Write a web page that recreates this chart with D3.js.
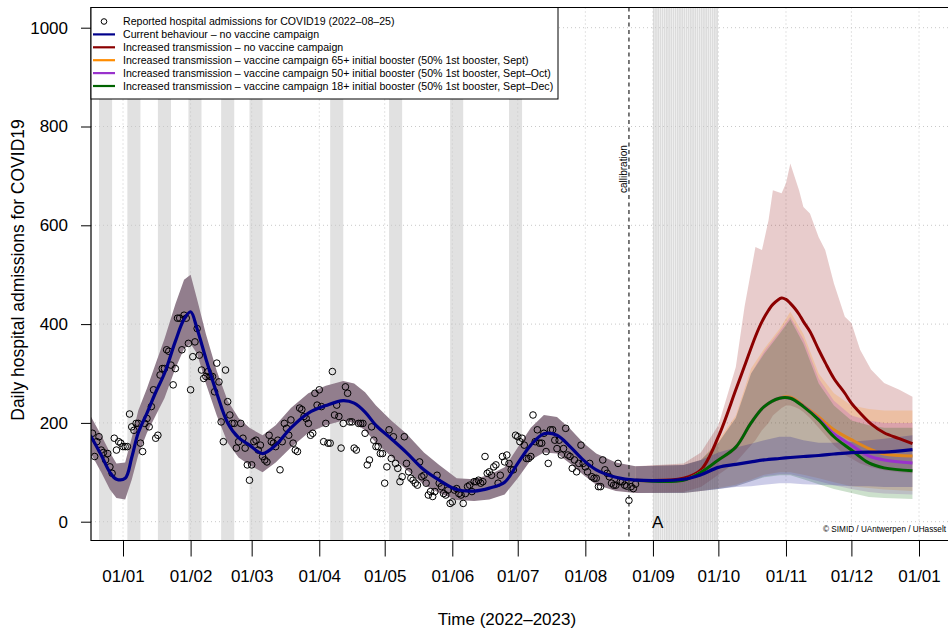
<!DOCTYPE html>
<html>
<head>
<meta charset="utf-8">
<script src="https://cdn.jsdelivr.net/npm/d3@7"></script>
<style>
  body { margin: 0; background: #fff; }
  text { font-family: "Liberation Sans", Arial, Helvetica, sans-serif; }
</style>
</head>
<body>
<svg id="chart" width="948" height="629"></svg>
<script>
// ---- data ----

// reported daily admissions, one per day from 2021-12-18
const obsStart = "2021-12-18";
const obsValues = [
  179,132,162,172,145,140,125,138,111,98,169,145,162,159,
  152,152,152,218,192,185,199,199,159,142,199,209,192,233,267,169,175,
  297,310,310,348,345,317,277,310,412,412,348,418,412,361,267,334,364,391,
  337,307,290,294,304,294,294,263,321,283,202,162,307,243,216,199,199,149,
  162,199,169,149,115,84,115,162,165,145,155,132,125,121,175,162,159,152,
  165,105,162,199,189,175,206,159,145,142,230,227,213,209,199,175,179,260,
  236,267,233,162,199,159,159,304,216,236,213,149,199,273,260,202,202,149,
  145,199,199,199,179,115,125,192,165,152,
  152,138,138,78,111,186,128,172,118,108,
  81,91,172,118,101,88,84,78,74,
  121,91,94,78,54,61,51,61,94,78,
  71,57,54,64,37,40,64,67,57,
  54,37,57,71,74,61,81,
  81,84,78,81,132,98,101,94,111,
  115,78,94,132,121,135,118,105,105,
  175,172,162,169,155,128,128,132,216,162,
  186,159,159,179,142,118,186,186,165,
  148,165,135,148,189,135,132,108,125,101,
  118,155,118,111,101,118,91,88,88,71,71,125,
  105,98,91,78,74,74,118,81,81,74,72,
  43,71,67,76
];

// model fit (calibration period)
const fitDates = [
  "2021-12-17","2021-12-22","2021-12-26","2021-12-29","2022-01-02","2022-01-05","2022-01-08",
  "2022-01-12","2022-01-16","2022-01-20","2022-01-25","2022-01-29","2022-02-01","2022-02-04",
  "2022-02-08","2022-02-13","2022-02-18","2022-02-23","2022-02-28","2022-03-06","2022-03-12",
  "2022-03-19","2022-03-27","2022-04-04","2022-04-12","2022-04-17","2022-04-22","2022-04-27",
  "2022-05-04","2022-05-11","2022-05-19","2022-05-26","2022-06-03","2022-06-11","2022-06-18",
  "2022-06-25","2022-07-01","2022-07-07","2022-07-13","2022-07-19","2022-07-25","2022-07-31",
  "2022-08-06","2022-08-15","2022-08-24"
];
const fitMean = [
  175,135,100,86,88,130,180,220,262,300,365,410,425,390,330,260,200,170,155,138,155,
  190,220,235,245,240,222,195,168,140,105,84,65,62,68,80,118,155,178,175,152,125,105,90,84
];
const fitLower = [
  140,100,65,48,45,85,135,180,215,250,310,350,360,340,280,215,160,130,115,100,120,
  150,180,195,205,200,185,160,132,105,75,58,44,42,45,55,88,125,140,138,118,95,75,62,58
];
const fitUpper = [
  215,175,140,118,120,170,225,270,320,370,440,490,500,450,380,305,245,210,190,175,195,
  230,260,275,285,280,262,235,205,178,140,115,88,86,95,110,150,190,216,212,188,160,138,120,112
];

// scenario projections
const scenDates = [
  "2022-08-24","2022-09-15","2022-09-23","2022-10-01","2022-10-09","2022-10-16","2022-10-22",
  "2022-10-29","2022-11-03","2022-11-09","2022-11-16","2022-11-23","2022-12-01","2022-12-09",
  "2022-12-16","2022-12-29"
];
const blueMean   = [84,86,95,110,116,121,125,128,130,132,134,137,140,141,141,146];
const blueLower  = [58,58,62,66,70,72,75,78,78,76,75,74,72,72,70,70];
const blueUpper  = [112,115,125,140,150,158,165,172,172,165,160,160,162,165,168,175];
const orangeMean = [84,84,100,125,151,200,233,250,252,235,212,186,166,148,137,133];
const orangeLower= [58,58,62,68,75,85,95,100,100,95,88,80,72,68,65,62];
const orangeUpper= [112,115,125,165,215,310,350,390,425,380,300,260,235,228,225,225];
const purpleMean = [84,84,100,125,151,200,233,250,250,234,208,178,155,133,125,119];
const purpleLower= [58,58,62,66,72,82,92,96,96,90,82,74,66,60,57,55];
const purpleUpper= [112,115,125,160,210,300,345,385,415,370,290,245,215,205,200,200];
const greenMean  = [84,84,100,125,151,200,233,250,250,233,206,172,145,119,109,103];
const greenLower = [58,58,62,66,72,82,90,94,94,86,76,66,58,50,48,46];
const greenUpper = [112,115,125,160,210,300,340,380,410,360,280,235,205,195,190,190];

const redDates = [
  "2022-08-24","2022-09-15","2022-09-23","2022-10-01","2022-10-09","2022-10-13","2022-10-18",
  "2022-10-21","2022-10-24","2022-10-26","2022-10-30","2022-11-01","2022-11-03","2022-11-05",
  "2022-11-07","2022-11-09","2022-11-12","2022-11-16","2022-11-19","2022-11-23","2022-11-28",
  "2022-12-01","2022-12-05","2022-12-10","2022-12-16","2022-12-23","2022-12-29"
];
const redMean  = [84,88,105,172,267,315,375,405,428,440,453,450,442,432,420,405,385,348,322,290,260,240,220,198,180,168,158];
const redLower = [58,60,70,95,120,140,165,185,200,215,230,235,235,232,228,222,210,190,175,155,135,128,118,110,104,100,98];
const redUpper = [112,118,140,195,313,435,556,550,610,671,665,685,725,698,671,637,624,576,550,482,415,402,348,308,281,267,253];

// shaded periods
const bands = [
  ["2021-12-21","2021-12-27"],["2022-01-03","2022-01-09"],["2022-01-17","2022-01-23"],
  ["2022-01-31","2022-02-06"],["2022-02-15","2022-02-21"],["2022-02-28","2022-03-06"],
  ["2022-04-06","2022-04-12"],["2022-05-03","2022-05-09"],["2022-05-31","2022-06-06"],
  ["2022-06-27","2022-07-03"]
];
const campaign = ["2022-09-01","2022-10-01"];
const calibDate = "2022-08-21";

const yTicks = [0, 200, 400, 600, 800, 1000];

const legendLabels = [
  "Reported hospital admissions for COVID19 (2022\u201308\u201325)",
  "Current behaviour \u2013 no vaccine campaign",
  "Increased transmission \u2013 no vaccine campaign",
  "Increased transmission \u2013 vaccine campaign 65+ initial booster (50% 1st booster, Sept)",
  "Increased transmission \u2013 vaccine campaign 50+ initial booster (50% 1st booster, Sept\u2013Oct)",
  "Increased transmission \u2013 vaccine campaign 18+ initial booster (50% 1st booster, Sept\u2013Dec)"
];
const legendColors = [null, "#00008B", "#8B0000", "#FF8C00", "#9932CC", "#006400"];

// ---- drawing ----
const parse = d3.utcParse("%Y-%m-%d");
const svg = d3.select("#chart");
const plot = {left: 91, top: 7.5, right: 962, bottom: 540.5};

const x = d3.scaleUtc()
  .domain([parse("2022-01-01"), parse("2023-01-01")])
  .range([123, 919]);
const y = d3.scaleLinear().domain([0, 1000]).range([521.7, 27.7]);

svg.append("rect").attr("width", 948).attr("height", 629).attr("fill", "#fff");

svg.append("defs").append("clipPath").attr("id", "clip")
  .append("rect")
  .attr("x", plot.left).attr("y", plot.top)
  .attr("width", plot.right - plot.left).attr("height", plot.bottom - plot.top);

const g = svg.append("g").attr("clip-path", "url(#clip)");

// grey bands
g.selectAll("rect.band")
  .data(bands)
  .join("rect")
  .attr("class", "band")
  .attr("x", d => x(parse(d[0])))
  .attr("width", d => x(parse(d[1])) - x(parse(d[0])))
  .attr("y", plot.top)
  .attr("height", plot.bottom - plot.top)
  .attr("fill", "#e1e1e1");

// campaign month, drawn day by day (gives the striped look)
const campaignDays = d3.utcDay.range(parse(campaign[0]), parse(campaign[1]));
g.selectAll("rect.camp")
  .data(campaignDays)
  .join("rect")
  .attr("class", "camp")
  .attr("x", d => x(d))
  .attr("width", d => x(d3.utcDay.offset(d, 1)) - x(d) - 0.45)
  .attr("y", plot.top)
  .attr("height", plot.bottom - plot.top)
  .attr("fill", "#dcdcdc");

// dotted grid
const monthTicks = d3.utcMonth.range(parse("2022-01-01"), parse("2023-01-02"));
g.selectAll("line.hgrid")
  .data(yTicks)
  .join("line")
  .attr("x1", plot.left).attr("x2", plot.right)
  .attr("y1", d => y(d)).attr("y2", d => y(d))
  .attr("stroke", "#c8c8c8").attr("stroke-dasharray", "1,3");
g.selectAll("line.vgrid")
  .data(monthTicks)
  .join("line")
  .attr("x1", d => x(d)).attr("x2", d => x(d))
  .attr("y1", plot.top).attr("y2", plot.bottom)
  .attr("stroke", "#c8c8c8").attr("stroke-dasharray", "1,3");

// ribbons
const area = d3.area()
  .x(d => x(d.date))
  .y0(d => y(d.lo))
  .y1(d => y(d.hi));

const fitRows = fitDates.map((d, i) => ({date: parse(d), v: fitMean[i], lo: fitLower[i], hi: fitUpper[i]}));
g.append("path")
  .datum(fitRows)
  .attr("d", area)
  .attr("fill", "#927e8d");

function rows(dates, mean, lo, hi) {
  return dates.map((d, i) => ({date: parse(d), v: mean[i], lo: lo[i], hi: hi[i]}));
}
const scenarios = [
  {color: "#8B0000", rows: rows(redDates, redMean, redLower, redUpper)},
  {color: "#FF8C00", rows: rows(scenDates, orangeMean, orangeLower, orangeUpper)},
  {color: "#9932CC", rows: rows(scenDates, purpleMean, purpleLower, purpleUpper)},
  {color: "#006400", rows: rows(scenDates, greenMean, greenLower, greenUpper)},
  {color: "#00008B", rows: rows(scenDates, blueMean, blueLower, blueUpper)}
];
g.selectAll("path.ribbon")
  .data(scenarios)
  .join("path")
  .attr("class", "ribbon")
  .attr("d", d => area(d.rows))
  .attr("fill", d => d.color)
  .attr("fill-opacity", 0.2);

// calibration marker
const cx = x(parse(calibDate));
svg.append("line")
  .attr("x1", cx).attr("x2", cx)
  .attr("y1", plot.top).attr("y2", plot.bottom)
  .attr("stroke", "#333").attr("stroke-width", 1.3)
  .attr("stroke-dasharray", "4,3.5");
svg.append("text")
  .attr("transform", `translate(${cx - 1.5},193) rotate(-90)`)
  .attr("font-size", 10)
  .text("callibration");

// observed points
g.selectAll("circle.obs")
  .data(obsValues)
  .join("circle")
  .attr("class", "obs")
  .attr("cx", (d, i) => x(d3.utcDay.offset(parse(obsStart), i)))
  .attr("cy", d => y(d))
  .attr("r", 3.3)
  .attr("fill", "none")
  .attr("stroke", "#000")
  .attr("stroke-width", 1);

// mean lines
const line = d3.line()
  .x(d => x(d.date))
  .y(d => y(d.v))
  .curve(d3.curveCatmullRom);

g.selectAll("path.scen")
  .data(scenarios.slice(0, 4))
  .join("path")
  .attr("class", "scen")
  .attr("d", d => line(d.rows))
  .attr("fill", "none")
  .attr("stroke", d => d.color === "#FF8C00" ? "#E0861C" : d.color)
  .attr("stroke-width", 3);

const blueRows = fitRows.concat(scenarios[4].rows.slice(1));
g.append("path")
  .datum(blueRows)
  .attr("d", line)
  .attr("fill", "none")
  .attr("stroke", "#00008B")
  .attr("stroke-width", 3.2);

// annotation texts
svg.append("text")
  .attr("x", 652).attr("y", 528)
  .attr("font-size", 17)
  .text("A");
svg.append("text")
  .attr("x", 946).attr("y", 532)
  .attr("text-anchor", "end")
  .attr("font-size", 8.2)
  .text("\u00a9 SIMID / UAntwerpen / UHasselt");

// axes
const xAxis = d3.axisBottom(x)
  .tickValues(monthTicks)
  .tickFormat(d3.utcFormat("%d/%m"))
  .tickSize(16)
  .tickPadding(13.5);
const gx = svg.append("g")
  .attr("transform", `translate(0,${plot.bottom})`)
  .call(xAxis);
gx.select(".domain").remove();
gx.selectAll("text").attr("font-size", 17).attr("font-family", null).attr("fill", "#000");
gx.selectAll("line").attr("stroke", "#000");

const yAxis = d3.axisLeft(y)
  .tickValues(yTicks)
  .tickFormat(d3.format("d"))
  .tickSize(10)
  .tickPadding(13);
const gy = svg.append("g")
  .attr("transform", `translate(${plot.left},0)`)
  .call(yAxis);
gy.select(".domain").remove();
gy.selectAll("text").attr("font-size", 17).attr("font-family", null).attr("fill", "#000");
gy.selectAll("line").attr("stroke", "#000");

// plot frame (right side falls outside the picture)
svg.append("path")
  .attr("d", `M${plot.right},${plot.top}H${plot.left}V${plot.bottom}H${plot.right}`)
  .attr("fill", "none")
  .attr("stroke", "#000")
  .attr("stroke-width", 1.2);

// axis titles
svg.append("text")
  .attr("x", 507).attr("y", 625)
  .attr("text-anchor", "middle")
  .attr("font-size", 17)
  .text("Time (2022\u20132023)");
svg.append("text")
  .attr("transform", "translate(24,270) rotate(-90)")
  .attr("text-anchor", "middle")
  .attr("font-size", 17.5)
  .text("Daily hospital admissions for COVID19");

// legend
const leg = svg.append("g");
leg.append("rect")
  .attr("x", plot.left).attr("y", plot.top)
  .attr("width", 467).attr("height", 91.5)
  .attr("fill", "#fff").attr("stroke", "#000").attr("stroke-width", 1);
const items = leg.selectAll("g.item")
  .data(legendLabels)
  .join("g")
  .attr("class", "item")
  .attr("transform", (d, i) => `translate(0,${21.5 + i * 12.9})`);
items.filter((d, i) => i === 0).append("circle")
  .attr("cx", 104).attr("cy", 0).attr("r", 2.8)
  .attr("fill", "none").attr("stroke", "#000").attr("stroke-width", 1);
items.filter((d, i) => i > 0).append("line")
  .attr("x1", 93).attr("x2", 115)
  .attr("stroke", (d, i) => legendColors[i + 1])
  .attr("stroke-width", 2.2);
items.append("text")
  .attr("x", 123).attr("dy", "0.35em")
  .attr("font-size", 10.6)
  .text(d => d);
</script>
</body>
</html>
